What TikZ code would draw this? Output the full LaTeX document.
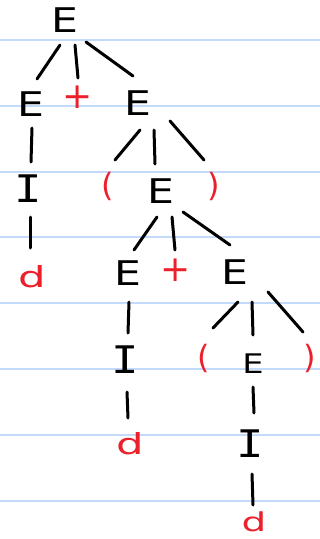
\documentclass[tikz,border=0pt]{standalone}
\usepackage{fontspec}
\usepackage{graphicx}
\setmainfont{DejaVu Sans}
\newfontfamily\monoI{DejaVu Sans Mono}
\usetikzlibrary{calc}
\definecolor{ruleblue}{RGB}{196,218,250}
\definecolor{inkred}{RGB}{235,32,42}
\newcommand{\wideE}{\scalebox{1.25}[1]{E}}
\newcommand{\wideI}{\scalebox{1.2}[1]{I}}
\newcommand{\wided}{\scalebox{1.5}[1]{d}}
\tikzset{
  sym/.style={inner sep=0pt, font=\fontsize{34}{34}\selectfont, text=black},
  isym/.style={inner sep=0pt, font=\monoI\fontsize{38}{38}\selectfont, text=black},
  term/.style={inner sep=0pt, font=\fontsize{36}{36}\selectfont, text=inkred},
  dsym/.style={inner sep=0pt, font=\fontsize{29}{29}\selectfont, text=inkred},
  paren/.style={inner sep=0pt, font=\fontsize{32}{32}\selectfont, text=inkred},
  edge/.style={line width=3pt, line cap=round, black},
  ruling/.style={line width=2pt, ruleblue}
}
\begin{document}
\begin{tikzpicture}[x=1pt,y=-1pt]
\useasboundingbox (0,0) rectangle (320,539);
\fill[white] (0,0) rectangle (320,539);
\foreach \yy in {40,106,172,237,303,369,435,501}
  \draw[ruling] (0,\yy) -- (320,\yy);
% nodes
\node[sym]   (r)   at (65,20)   {\wideE};
\node[sym]   (a)   at (31,104)  {\wideE};
\node[term]  (p1)  at (78,97)   {+};
\node[sym]   (b)   at (138,103) {\wideE};
\node[isym]  (c)   at (28,189)  {\wideI};
\node[dsym]  (d1)  at (32,277)  {\wided};
\node[paren] (lp1) at (108,186) {(};
\node[sym]   (e)   at (161,191) {\wideE};
\node[paren] (rp1) at (214,186) {)};
\node[sym]   (f)   at (128,273) {\wideE};
\node[term]  (p2)  at (176,270) {+};
\node[sym]   (g)   at (235,272) {\wideE};
\node[isym]  (h)   at (125,360) {\wideI};
\node[dsym]  (d2)  at (130,444) {\wided};
\node[paren] (lp2) at (204,358) {(};
\node[sym, font=\fontsize{27}{27}\selectfont] (k) at (253,364) {\wideE};
\node[paren] (rp2) at (310,358) {)};
\node[isym]  (m)   at (250,444) {\wideI};
\node[dsym, font=\fontsize{26}{26}\selectfont] (d3) at (254,522) {\wided};
% connectors
\draw[edge] ($(r)+(-5,25)$) -- ($(a)+(6,-25)$);
\draw[edge] ($(r)+(10,25)$) -- ($(p1)+(0,-19)$);
\draw[edge] ($(r)+(21,22)$) -- ($(b)+(-5,-27)$);
\draw[edge] ($(a)+(1,24)$) -- ($(c)+(3,-27)$);
\draw[edge] ($(b)+(2,27)$) -- ($(lp1)+(7,-26)$);
\draw[edge] ($(b)+(16,27)$) -- ($(e)+(-6,-27)$);
\draw[edge] ($(b)+(32,18)$) -- ($(rp1)+(-10,-26)$);
\draw[edge] ($(c)+(2,28)$) -- ($(d1)+(-2,-29)$);
\draw[edge] ($(e)+(-4,26)$) -- ($(f)+(6,-23)$);
\draw[edge] ($(e)+(11,26)$) -- ($(p2)+(-1,-20)$);
\draw[edge] ($(e)+(22,21)$) -- ($(g)+(-5,-27)$);
\draw[edge] ($(f)+(1,29)$) -- ($(h)+(3,-27)$);
\draw[edge] ($(g)+(3,30)$) -- ($(lp2)+(9,-30)$);
\draw[edge] ($(g)+(17,30)$) -- ($(k)+(0,-29)$);
\draw[edge] ($(g)+(33,20)$) -- ($(rp2)+(-7,-26)$);
\draw[edge] ($(h)+(2,32)$) -- ($(d2)+(-2,-26)$);
\draw[edge] ($(k)+(0,23)$) -- ($(m)+(4,-31)$);
\draw[edge] ($(m)+(2,30)$) -- ($(d3)+(-1,-17)$);
\end{tikzpicture}
\end{document}
